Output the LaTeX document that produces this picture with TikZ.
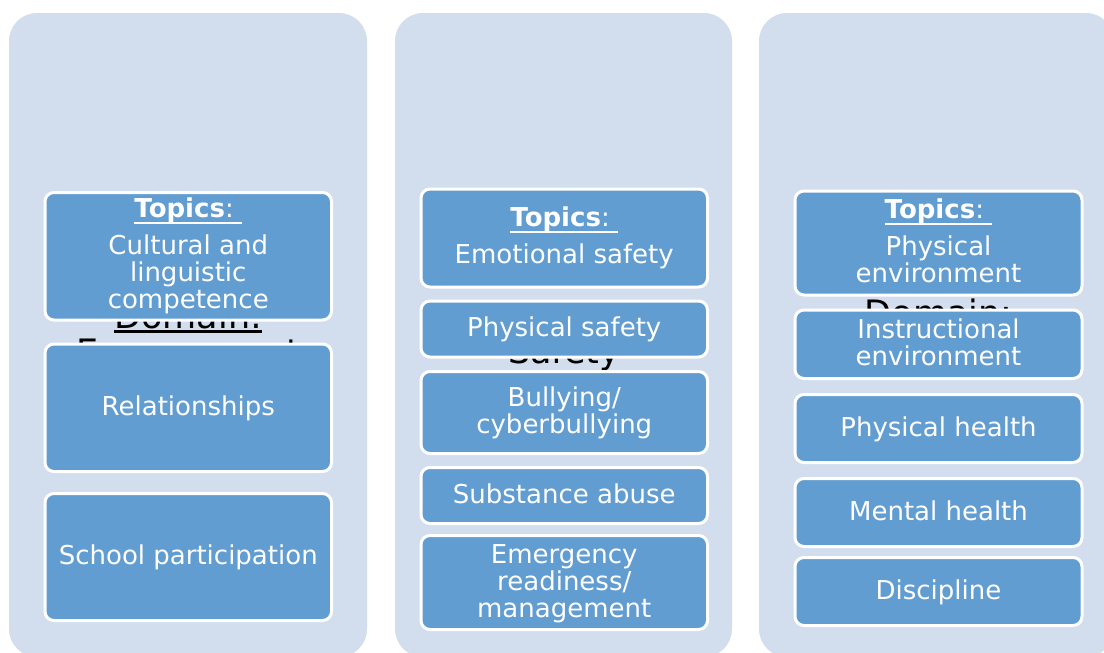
\documentclass[tikz,border=0pt]{standalone}
\usepackage{fontspec}
\setmainfont{DejaVu Sans}
\definecolor{panelc}{HTML}{D2DEEE}
\definecolor{boxc}{HTML}{619DD1}
\newcommand\myul[1]{\setbox0\hbox{#1}\rlap{\rule[-0.24em]{\wd0}{0.075em}}\box0}
\newcommand\myulb[1]{\setbox0\hbox{#1}\rlap{\rule[-0.14em]{\wd0}{0.08em}}\box0}
\tikzset{
  panel/.style={fill=panelc, rounded corners=28pt, inner sep=0pt},
  topic/.style={draw=white, line width=3pt, fill=boxc, rounded corners=9pt, inner sep=0pt},
  lbl/.style={text=white, font=\fontsize{26}{27}\selectfont, align=center, anchor=base, inner sep=0pt},
  dom/.style={text=black, font=\fontsize{35}{36}\selectfont, align=center, anchor=base, inner sep=0pt},
}
\newcommand\tbox[5]{\node[topic, minimum width={#4-#2-3}, minimum height={#5-#3-3}] (#1) at ({(#2+#4)/2},{(#3+#5)/2}) {};}
\newcommand\pbox[5]{\node[panel, minimum width={#4-#2}, minimum height={#5-#3}] (#1) at ({(#2+#4)/2},{(#3+#5)/2}) {};}
\begin{document}
\begin{tikzpicture}[x=1pt,y=-1pt]
\useasboundingbox (0,0) rectangle (1104,653);
\clip (0,0) rectangle (1104,653);
\fill[white] (0,0) rectangle (1104,653);
% panels
\pbox{p1}{9}{13}{367}{657}
\pbox{p2}{395}{13}{732}{657}
\pbox{p3}{759}{13}{1114}{657}
% domain titles (mostly hidden behind the topic boxes); anchor = last baseline
\node[dom] (d1) at (188.25,364) {\myulb{Domain:}\\Engagement};
\node[dom] (d2) at (564.25,363) {\myulb{Domain:}\\Safety};
\node[dom] (d3) at (938.5,361.5) {\myulb{Domain:}\\Environment};
% column 1
\tbox{a1}{43.5}{191}{333}{321.5}
\tbox{a2}{43.5}{342.5}{333}{473}
\tbox{a3}{43.5}{492}{333}{622}
% column 2
\tbox{b1}{419.5}{187.5}{709}{288.5}
\tbox{b2}{419.5}{299.5}{709}{358.5}
\tbox{b3}{419.5}{370}{709}{455}
\tbox{b4}{419.5}{466}{709}{525}
\tbox{b5}{419.5}{534}{709}{631}
% column 3
\tbox{c1}{793.5}{189.5}{1083.5}{296.5}
\tbox{c2}{793.5}{308.5}{1083.5}{380}
\tbox{c3}{793.5}{393}{1083.5}{464}
\tbox{c4}{793.5}{477}{1083.5}{548}
\tbox{c5}{793.5}{556}{1083.5}{627}
% labels column 1 (anchor = baseline of last line)
\node[lbl] (ta1) at (188.25,308.7) {\myul{\textbf{Topics}:\ }\\[10pt]Cultural and\\linguistic\\competence};
\node[lbl] (ta2) at (188.25,415.25) {Relationships};
\node[lbl] (ta3) at (188.25,564.5) {School participation};
% labels column 2
\node[lbl] (tb1) at (564.25,263.3) {\myul{\textbf{Topics}:\ }\\[9.6pt]Emotional safety};
\node[lbl] (tb2) at (564.25,336.5) {Physical safety};
\node[lbl] (tb3) at (564.25,433.5) {Bullying/\\cyberbullying};
\node[lbl] (tb4) at (564.25,503) {Substance abuse};
\node[lbl] (tb5) at (564.25,617) {Emergency\\readiness/\\management};
% labels column 3
\node[lbl] (tc1) at (938.5,282) {\myul{\textbf{Topics}:\ }\\[9.7pt]Physical\\environment};
\node[lbl] (tc2) at (938.5,365) {Instructional\\environment};
\node[lbl] (tc3) at (938.5,436) {Physical health};
\node[lbl] (tc4) at (938.5,520) {Mental health};
\node[lbl] (tc5) at (938.5,599) {Discipline};
\end{tikzpicture}
\end{document}
